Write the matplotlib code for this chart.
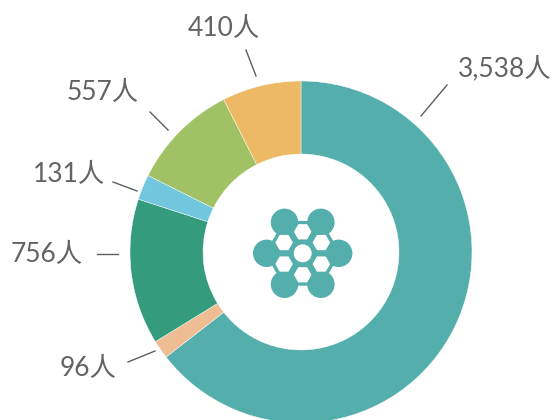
import numpy as np
import matplotlib
matplotlib.use("Agg")
import matplotlib.pyplot as plt
from matplotlib.patches import Circle, Polygon, RegularPolygon

values = [3538, 96, 756, 131, 557, 410]
labels = ["3,538人", "96人", "756人", "131人", "557人", "410人"]
colors = ["#54AEAB", "#EEBD93", "#349C7C", "#72C7DF", "#A0C264", "#EEB965"]

W, H = 555, 420
CX, CY, R, RIN = 301, H - 252, 171, 98

# layout, in pixels from the top left: text centre and leader line ends
text_at = [(505, 68), (88, 368), (47, 254), (69, 175), (103, 93), (224, 28)]
lead_at = [((447, 85), (421, 116)), ((128, 362), (155, 351)), ((97, 254), (118, 254)),
           ((113, 182), (137, 191)), ((150, 112), (168, 130)), ((246, 50), (256, 76))]

plt.rcParams['font.family'] = ['Lato', 'Noto Sans CJK SC', 'DejaVu Sans']
fig = plt.figure(figsize=(W / 100, H / 100), dpi=100, facecolor="white")
ax = fig.add_axes([0, 0, 1, 1])
ax.pie(values, colors=colors, startangle=90, counterclock=False, center=(CX, CY), radius=R,
       wedgeprops=dict(width=R - RIN, edgecolor="white", linewidth=0.3), frame=True)
ax.set_xlim(0, W)
ax.set_ylim(0, H)
ax.set_aspect("equal")
ax.axis("off")

for lab, (tx, ty), (p0, p1) in zip(labels, text_at, lead_at):
    ax.text(tx, H - ty, lab, ha="center", va="center", fontsize=19, color="#636363")
    ax.plot([p0[0], p1[0]], [H - p0[1], H - p1[1]], color="#5E5E5E", lw=1.0)

# centre icon
teal = colors[0]
ix, iy = 302.7, H - 253.3
node_dx = [18.2, 36, 18.2, -18.2, -36, -18.2]
node_dy = [31, 0, -31, -31, 0, 31]
nodes = [(ix + a, iy + b) for a, b in zip(node_dx, node_dy)]
ax.add_patch(Polygon(nodes, closed=True, fc=teal, ec=teal, lw=2, zorder=5))
for n in nodes:
    ax.add_patch(Circle(n, 13.7, fc=teal, ec="none", zorder=5))
for ang in [90, 30, -30, -90, -150, 150]:
    a = np.radians(ang)
    ax.add_patch(RegularPolygon((ix + 21.5 * np.cos(a), iy + 21.5 * np.sin(a)), 6, radius=8.8,
                                orientation=np.pi / 6, fc="white", ec="none", zorder=6))
ax.add_patch(Circle((ix, iy), 9, fc="white", ec="none", zorder=6))

fig.savefig("out.png", dpi=100, facecolor="white")
